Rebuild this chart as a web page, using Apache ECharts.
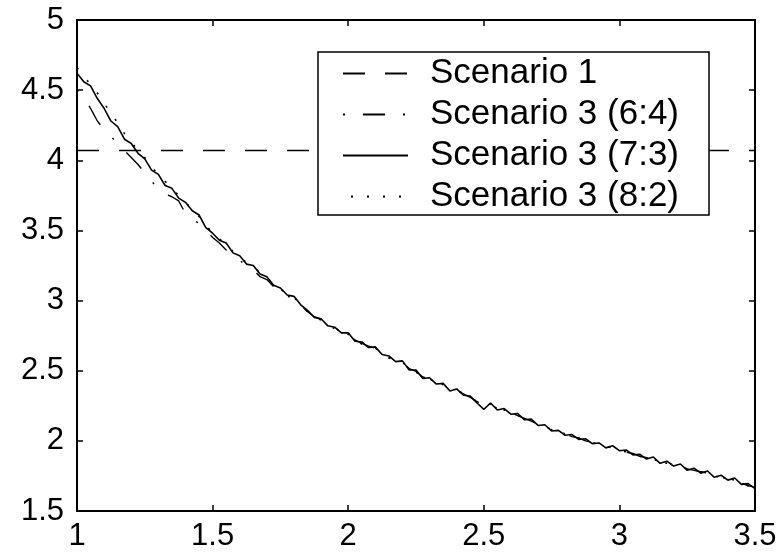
<!DOCTYPE html>
<html>
<head>
<meta charset="utf-8">
<script src="https://cdn.jsdelivr.net/npm/echarts@6/dist/echarts.min.js"></script>
<style>
    html, body {margin: 0; padding: 0; background: #fff;}
    #main {width: 783px; height: 557px;}
</style>
</head>
<body>
<div id="main"></div>
<script>
// x positions (shared by the three Scenario 3 runs)
var xs = [
    1.000, 1.025, 1.050, 1.075, 1.100, 1.125, 1.150, 1.175, 1.200, 1.225,
    1.250, 1.275, 1.300, 1.325, 1.350, 1.375, 1.400, 1.425, 1.450, 1.475,
    1.500, 1.525, 1.550, 1.575, 1.600, 1.625, 1.650, 1.675, 1.700, 1.725,
    1.750, 1.775, 1.800, 1.825, 1.850, 1.875, 1.900, 1.925, 1.950, 1.975,
    2.000, 2.025, 2.050, 2.075, 2.100, 2.125, 2.150, 2.175, 2.200, 2.225,
    2.250, 2.275, 2.300, 2.325, 2.350, 2.375, 2.400, 2.425, 2.450, 2.475,
    2.500, 2.525, 2.550, 2.575, 2.600, 2.625, 2.650, 2.675, 2.700, 2.725,
    2.750, 2.775, 2.800, 2.825, 2.850, 2.875, 2.900, 2.925, 2.950, 2.975,
    3.000, 3.025, 3.050, 3.075, 3.100, 3.125, 3.150, 3.175, 3.200, 3.225,
    3.250, 3.275, 3.300, 3.325, 3.350, 3.375, 3.400, 3.425, 3.450, 3.475,
    3.500
];

// Scenario 1 is flat
var xRange = [1, 3.5];
var scenario1 = 4.07;

// Scenario 3 (6:4) - dash-dot
var s64 = [
    4.50, 4.45, 4.37, 4.28, 4.22, 4.17, 4.12, 4.07, 4.02, 3.97,
    3.91, 3.85, 3.80, 3.76, 3.74, 3.71, 3.62, 3.58, 3.55, 3.50,
    3.45, 3.41, 3.36, 3.32, 3.29, 3.24, 3.22, 3.17, 3.15, 3.10,
    3.08, 3.03, 3.02, 2.97, 2.92, 2.885, 2.865, 2.825, 2.805, 2.775,
    2.76, 2.72, 2.695, 2.675, 2.66, 2.625, 2.595, 2.575, 2.56, 2.515,
    2.495, 2.455, 2.44, 2.415, 2.40, 2.365, 2.36, 2.335, 2.31, 2.28,
    2.25, 2.26, 2.23, 2.22, 2.20, 2.18, 2.16, 2.14, 2.12, 2.10,
    2.08, 2.06, 2.05, 2.03, 2.02, 2.00, 1.99, 1.97, 1.96, 1.95,
    1.94, 1.92, 1.91, 1.89, 1.88, 1.87, 1.85, 1.84, 1.83, 1.82,
    1.80, 1.79, 1.78, 1.77, 1.75, 1.74, 1.73, 1.72, 1.70, 1.68,
    1.67
];

// Scenario 3 (7:3) - solid
var s73 = [
    4.62, 4.56, 4.53, 4.44, 4.37, 4.28, 4.24, 4.15, 4.12, 4.05,
    4.01, 3.93, 3.90, 3.82, 3.80, 3.73, 3.70, 3.64, 3.61, 3.52,
    3.48, 3.43, 3.41, 3.34, 3.32, 3.26, 3.25, 3.19, 3.17, 3.11,
    3.09, 3.04, 3.03, 2.97, 2.93, 2.88, 2.87, 2.82, 2.81, 2.77,
    2.77, 2.71, 2.705, 2.665, 2.67, 2.615, 2.605, 2.565, 2.57, 2.505,
    2.505, 2.445, 2.45, 2.405, 2.41, 2.355, 2.37, 2.325, 2.32, 2.27,
    2.225, 2.27, 2.22, 2.23, 2.19, 2.195, 2.15, 2.155, 2.11, 2.115,
    2.07, 2.075, 2.04, 2.045, 2.01, 2.015, 1.98, 1.985, 1.95, 1.965,
    1.93, 1.935, 1.90, 1.905, 1.87, 1.885, 1.84, 1.855, 1.82, 1.835,
    1.79, 1.805, 1.77, 1.785, 1.74, 1.755, 1.72, 1.735, 1.69, 1.695,
    1.66
];

// Scenario 3 (8:2) - dotted
var s82 = [
    4.66, 4.60, 4.54, 4.48, 4.41, 4.33, 4.27, 4.19, 4.13, 4.07,
    4.02, 3.95, 3.90, 3.85, 3.80, 3.75, 3.70, 3.65, 3.60, 3.54,
    3.48, 3.44, 3.40, 3.35, 3.31, 3.27, 3.24, 3.20, 3.16, 3.12,
    3.08, 3.05, 3.02, 2.98, 2.92, 2.89, 2.86, 2.83, 2.80, 2.78,
    2.76, 2.72, 2.69, 2.68, 2.66, 2.63, 2.59, 2.58, 2.56, 2.52,
    2.49, 2.46, 2.44, 2.42, 2.40, 2.37, 2.36, 2.34, 2.31, 2.28,
    2.27, 2.26, 2.23, 2.22, 2.20, 2.18, 2.16, 2.14, 2.12, 2.10,
    2.08, 2.06, 2.05, 2.03, 2.02, 2.00, 1.99, 1.97, 1.96, 1.95,
    1.94, 1.92, 1.91, 1.89, 1.88, 1.87, 1.85, 1.84, 1.83, 1.82,
    1.80, 1.79, 1.78, 1.77, 1.75, 1.74, 1.73, 1.72, 1.70, 1.68,
    1.67
];

var names = ['Scenario 1', 'Scenario 3 (6:4)', 'Scenario 3 (7:3)', 'Scenario 3 (8:2)'];

function pairs(ys) {
    return xs.map(function (x, i) { return [x, ys[i]]; });
}

var font = 'Liberation Sans, Arial, Helvetica, sans-serif';

function axisX(pos, showLabel) {
    return {
        type: 'value', position: pos, min: 1, max: 3.5, interval: 0.5,
        axisLine: {show: true, onZero: false, lineStyle: {color: '#000', width: 2}},
        axisTick: {show: true, inside: true, length: 6, lineStyle: {color: '#000', width: 1.5}},
        axisLabel: {show: showLabel, color: '#000', fontSize: 31, fontFamily: font, margin: 10},
        splitLine: {show: false}
    };
}

function axisY(pos, showLabel) {
    return {
        type: 'value', position: pos, min: 1.5, max: 5, interval: 0.5,
        axisLine: {show: true, onZero: false, lineStyle: {color: '#000', width: 2}},
        axisTick: {show: true, inside: true, length: 6, lineStyle: {color: '#000', width: 1.5}},
        axisLabel: {show: showLabel, color: '#000', fontSize: 31, fontFamily: font, margin: 13},
        splitLine: {show: false}
    };
}

var chart = echarts.init(document.getElementById('main'));
chart.setOption({
    animation: false,
    backgroundColor: '#fff',
    color: ['#000'],
    grid: {left: 77, right: 28, top: 20, bottom: 46, containLabel: false},
    xAxis: [axisX('bottom', true), axisX('top', false)],
    yAxis: [axisY('left', true), axisY('right', false)],
    legend: {
        orient: 'vertical',
        left: 318,
        top: 52,
        data: names,
        itemWidth: 65,
        itemHeight: 14,
        itemGap: 6,
        padding: [4, 30, 1, 24],
        backgroundColor: '#fff',
        borderColor: '#000',
        borderWidth: 1.5,
        borderRadius: 0,
        itemStyle: {color: 'rgba(0,0,0,0)', borderWidth: 0},
        textStyle: {color: '#000', fontSize: 35, fontFamily: font, lineHeight: 33, padding: [0, 0, 0, 17]},
        selectedMode: false
    },
    series: [
        {
            name: names[0], type: 'line', symbol: 'none',
            data: [[xRange[0], scenario1], [xRange[1], scenario1]],
            lineStyle: {color: '#000', width: 1.4, type: [22, 20]}
        },
        {
            name: names[1], type: 'line', symbol: 'none', data: pairs(s64),
            lineStyle: {color: '#000', width: 1.4, type: [22, 18, 2, 18], dashOffset: 40}
        },
        {
            name: names[2], type: 'line', symbol: 'none', data: pairs(s73),
            lineStyle: {color: '#000', width: 1.6, type: 'solid'}
        },
        {
            name: names[3], type: 'line', symbol: 'none', data: pairs(s82),
            lineStyle: {color: '#000', width: 1.6, type: [2, 14]}
        }
    ]
});
</script>
</body>
</html>
